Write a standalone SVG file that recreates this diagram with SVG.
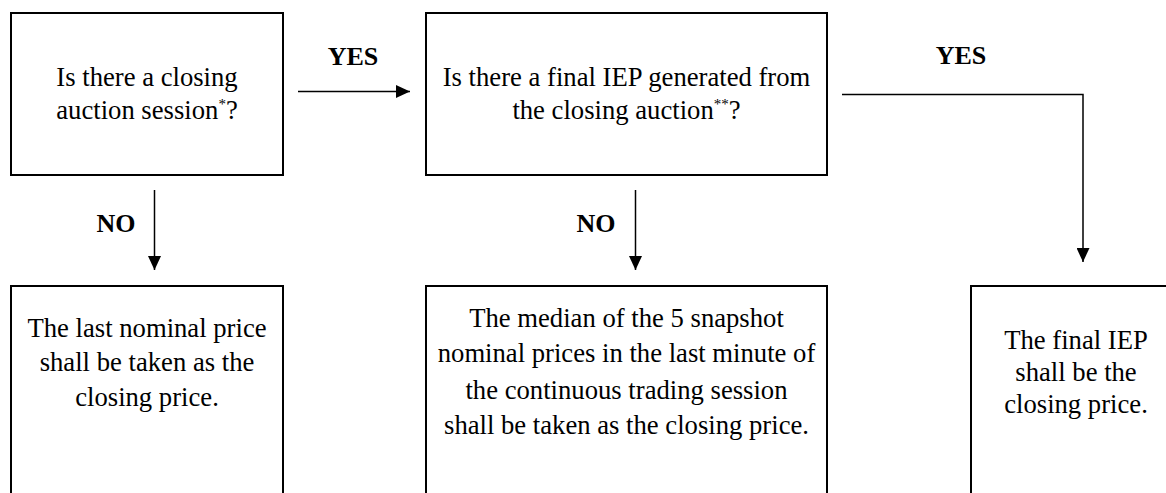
<svg xmlns="http://www.w3.org/2000/svg" width="1166" height="493" viewBox="0 0 1166 493">
<defs>
<style>
.box{fill:#fff;stroke:#000;stroke-width:2}
.t{font-family:"Liberation Serif","Times New Roman",serif;font-size:26.67px;fill:#000;text-anchor:middle}
.sup{font-size:15px}
.lbl{font-family:"Liberation Serif","Times New Roman",serif;font-size:26px;font-weight:bold;fill:#000;text-anchor:middle}
.c{fill:none;stroke:#000;stroke-width:1.5}
</style>
<marker id="ah" viewBox="0 0 14 13" refX="14" refY="6.5" markerWidth="14" markerHeight="13" markerUnits="userSpaceOnUse" orient="auto">
<path d="M0,0 L14,6.5 L0,13 Z" fill="#000"/>
</marker>
</defs>
<rect width="1166" height="493" fill="#fff"/>
<g id="connectors">
<line class="c" x1="298" y1="91.5" x2="410" y2="91.5" marker-end="url(#ah)"/>
<polyline class="c" points="842,94.5 1083,94.5 1083,262" marker-end="url(#ah)"/>
<line class="c" x1="154.5" y1="190" x2="154.5" y2="270" marker-end="url(#ah)"/>
<line class="c" x1="635.5" y1="190" x2="635.5" y2="270" marker-end="url(#ah)"/>
<text class="lbl" x="353" y="65">YES</text>
<text class="lbl" x="961" y="64">YES</text>
<text class="lbl" x="116" y="232">NO</text>
<text class="lbl" x="596" y="232">NO</text>
</g>
<g id="q1">
<rect class="box" x="11" y="13" width="272" height="162"/>
<text class="t" x="147" y="86">Is there a closing</text>
<text class="t" x="147" y="119">auction session<tspan class="sup" dy="-10">*</tspan><tspan dy="10">?</tspan></text>
</g>
<g id="q2">
<rect class="box" x="426" y="13" width="401" height="162"/>
<text class="t" x="626.5" y="86">Is there a final IEP generated from</text>
<text class="t" x="626.5" y="119">the closing auction<tspan class="sup" dy="-10">**</tspan><tspan dy="10">?</tspan></text>
</g>
<g id="r1">
<rect class="box" x="11" y="286" width="272" height="230"/>
<text class="t" x="147" y="337">The last nominal price</text>
<text class="t" x="147" y="371">shall be taken as the</text>
<text class="t" x="147" y="406">closing price.</text>
</g>
<g id="r2">
<rect class="box" x="426" y="286" width="401" height="230"/>
<text class="t" x="626.5" y="327">The median of the 5 snapshot</text>
<text class="t" x="626.5" y="362">nominal prices in the last minute of</text>
<text class="t" x="626.5" y="399">the continuous trading session</text>
<text class="t" x="626.5" y="434">shall be taken as the closing price.</text>
</g>
<g id="r3">
<rect class="box" x="971" y="286" width="210" height="230"/>
<text class="t" x="1076" y="349">The final IEP</text>
<text class="t" x="1076" y="381">shall be the</text>
<text class="t" x="1076" y="413">closing price.</text>
</g>
</svg>
